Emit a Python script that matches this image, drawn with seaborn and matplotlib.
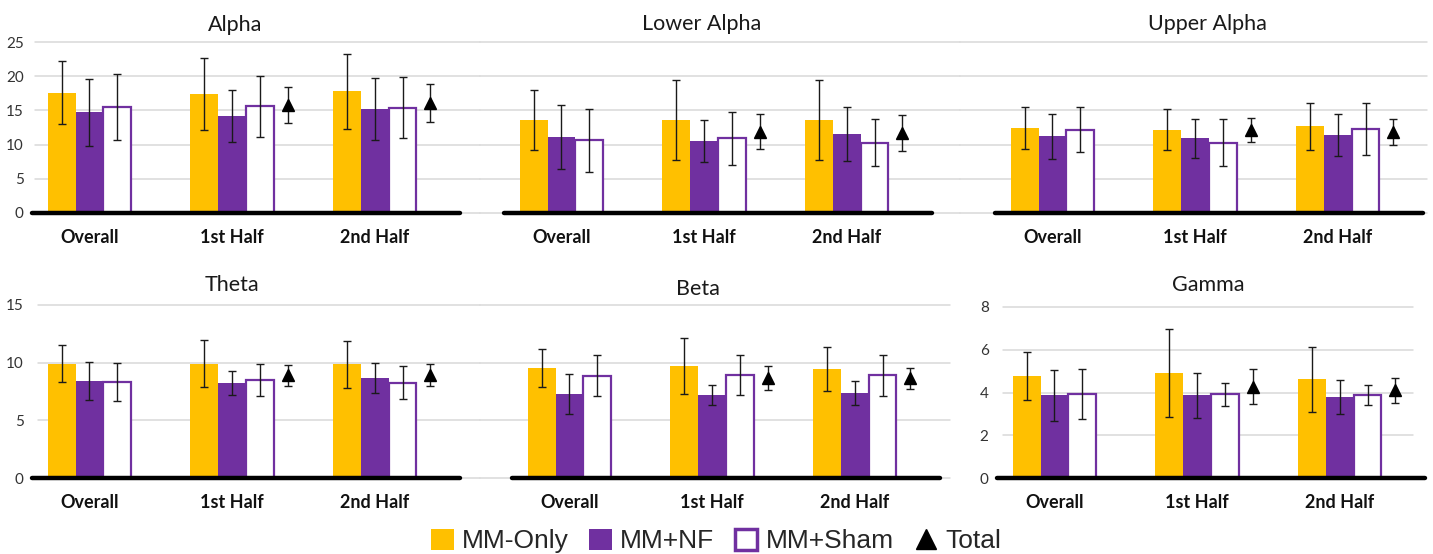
import numpy as np
import pandas as pd
import matplotlib
matplotlib.use("Agg")
import matplotlib.pyplot as plt
import seaborn as sns
from matplotlib.patches import Patch
from matplotlib.lines import Line2D

# ---------------------------------------------------------------- data
bands = ["Alpha", "Lower Alpha", "Upper Alpha", "Theta", "Beta", "Gamma"]
periods = ["Overall", "1st Half", "2nd Half"]
groups = ["MM-Only", "MM+NF", "MM+Sham"]

# mean power per band, one value per period (Overall, 1st Half, 2nd Half)
mm_only_mean = {
    "Alpha": [17.6, 17.4, 17.8], "Lower Alpha": [13.6, 13.6, 13.6],
    "Upper Alpha": [12.4, 12.2, 12.7], "Theta": [9.9, 9.92, 9.85],
    "Beta": [9.55, 9.7, 9.45], "Gamma": [4.78, 4.92, 4.61],
}
mm_only_sd = {
    "Alpha": [4.6, 5.3, 5.5], "Lower Alpha": [4.45, 5.85, 5.9],
    "Upper Alpha": [3.1, 3.05, 3.45], "Theta": [1.6, 2.03, 2.07],
    "Beta": [1.67, 2.45, 1.87], "Gamma": [1.13, 2.05, 1.5],
}
mm_nf_mean = {
    "Alpha": [14.7, 14.2, 15.2], "Lower Alpha": [11.1, 10.5, 11.55],
    "Upper Alpha": [11.2, 10.9, 11.4], "Theta": [8.42, 8.22, 8.7],
    "Beta": [7.27, 7.2, 7.4], "Gamma": [3.86, 3.87, 3.79],
}
mm_nf_sd = {
    "Alpha": [4.85, 3.75, 4.5], "Lower Alpha": [4.65, 3.05, 4.0],
    "Upper Alpha": [3.3, 2.8, 3.05], "Theta": [1.67, 1.03, 1.3],
    "Beta": [1.75, 0.83, 1.03], "Gamma": [1.2, 1.04, 0.8],
}
mm_sham_mean = {
    "Alpha": [15.5, 15.6, 15.4], "Lower Alpha": [10.6, 10.9, 10.3],
    "Upper Alpha": [12.2, 10.3, 12.3], "Theta": [8.3, 8.5, 8.25],
    "Beta": [8.88, 8.92, 8.9], "Gamma": [3.92, 3.91, 3.88],
}
mm_sham_sd = {
    "Alpha": [4.8, 4.5, 4.5], "Lower Alpha": [4.65, 3.85, 3.4],
    "Upper Alpha": [3.3, 3.5, 3.8], "Theta": [1.66, 1.4, 1.43],
    "Beta": [1.75, 1.75, 1.75], "Gamma": [1.18, 0.52, 0.48],
}
# all participants pooled (no Overall value)
total_mean = {
    "Alpha": [np.nan, 15.8, 16.1], "Lower Alpha": [np.nan, 11.9, 11.7],
    "Upper Alpha": [np.nan, 12.1, 11.8], "Theta": [np.nan, 8.92, 8.97],
    "Beta": [np.nan, 8.67, 8.64], "Gamma": [np.nan, 4.26, 4.1],
}
total_sd = {
    "Alpha": [np.nan, 2.6, 2.8], "Lower Alpha": [np.nan, 2.6, 2.7],
    "Upper Alpha": [np.nan, 1.75, 1.9], "Theta": [np.nan, 0.92, 0.95],
    "Beta": [np.nan, 1.08, 0.94], "Gamma": [np.nan, 0.82, 0.6],
}

y_max = {"Alpha": 25, "Lower Alpha": 25, "Upper Alpha": 25,
         "Theta": 15, "Beta": 15, "Gamma": 8}
y_step = {"Alpha": 5, "Lower Alpha": 5, "Upper Alpha": 5,
          "Theta": 5, "Beta": 5, "Gamma": 2}

# ---------------------------------------------------------------- style
GOLD = "#FFC000"
PURPLE = "#7030A0"
GRID = "#D9D9D9"
palette = {"MM-Only": GOLD, "MM+NF": PURPLE, "MM+Sham": "white", "Total": "black"}
hue_levels = groups + ["Total"]

sns.set_theme(style="white")
plt.rcParams["font.family"] = ["Lato", "DejaVu Sans"]

W, H = 1433, 554
fig = plt.figure(figsize=(W / 100, H / 100), dpi=100)

# panel frames in pixels: plot x0, x1, top, bottom, grid x0, grid x1, title x, title y
layout = {
    "Alpha":       (32, 460, 42, 213, 35, 480, 235, 25, True),
    "Lower Alpha": (504, 932, 42, 213, 480, 960, 702, 24, False),
    "Upper Alpha": (995, 1423, 42, 213, 960, 1427, 1207, 24, False),
    "Theta":       (32, 460, 305, 478, 38, 480, 232, 285, True),
    "Beta":        (512, 940, 305, 478, 480, 950, 698, 289, False),
    "Gamma":       (997, 1425, 307, 478, 1003, 1413, 1208, 285, True),
}

BAR_WIDTH = 0.78
slot = BAR_WIDTH / len(hue_levels)
offsets = [(j - (len(hue_levels) - 1) / 2) * slot for j in range(len(hue_levels))]

for band in bands:
    x0, x1, yt, yb, gx0, gx1, tx, ty, show_y = layout[band]
    ax = fig.add_axes([x0 / W, 1 - yb / H, (x1 - x0) / W, (yb - yt) / H])

    rows = []
    for g, means in zip(groups, [mm_only_mean, mm_nf_mean, mm_sham_mean]):
        for p, v in zip(periods, means[band]):
            rows.append({"period": p, "group": g, "value": v})
    df = pd.DataFrame(rows)

    ticks = np.arange(0, y_max[band] + 0.01, y_step[band])
    span = x1 - x0
    for t in ticks:
        ax.axhline(t, xmin=(gx0 - x0) / span, xmax=(gx1 - x0) / span,
                   color=GRID, lw=1.1, zorder=0, clip_on=False)

    sns.barplot(data=df, x="period", y="value", hue="group", order=periods,
                hue_order=hue_levels, palette=palette, width=BAR_WIDTH,
                errorbar=None, saturation=1, legend=False, ax=ax, zorder=2,
                linewidth=0)
    for patch in ax.patches:
        fc = patch.get_facecolor()
        if fc[0] > 0.99 and fc[1] > 0.99 and fc[2] > 0.99:
            patch.set_edgecolor(PURPLE)
            patch.set_linewidth(1.6)
            patch.set_joinstyle("miter")

    for j, (means, sds) in enumerate([(mm_only_mean, mm_only_sd),
                                      (mm_nf_mean, mm_nf_sd),
                                      (mm_sham_mean, mm_sham_sd)]):
        xs = np.arange(len(periods)) + offsets[j]
        ax.errorbar(xs, means[band], yerr=sds[band], fmt="none",
                    ecolor="#1a1a1a", elinewidth=1.0, capsize=2.6,
                    capthick=1.0, zorder=3, clip_on=False)

    xs_t = np.arange(len(periods)) + offsets[3]
    ax.errorbar(xs_t, total_mean[band], yerr=total_sd[band], fmt="^",
                color="black", ms=8, ecolor="#1a1a1a", elinewidth=1.0,
                capsize=2.6, capthick=1.0, zorder=3, clip_on=False)

    ax.axhline(0, color="black", lw=3.2, zorder=4, clip_on=False)

    ax.set_xlim(-0.5, len(periods) - 0.5)
    ax.set_ylim(0, y_max[band])
    for s in ax.spines.values():
        s.set_visible(False)
    ax.grid(False)
    ax.set_xlabel("")
    ax.set_ylabel("")

    # category labels sit under the three bars of each group
    ax.set_xticks(np.arange(len(periods)) + (offsets[0] + offsets[2]) / 2)
    ax.set_xticklabels(periods, fontsize=13, fontweight="bold", color="#111111")
    ax.tick_params(axis="x", length=0, pad=11.5)

    if show_y:
        ax.set_yticks(ticks)
        ax.set_yticklabels([f"{t:g}" for t in ticks], fontsize=11, color="#333333")
        ax.tick_params(axis="y", length=0, pad=6)
    else:
        ax.set_yticks([])

    fig.text(tx / W, 1 - ty / H, band, ha="center", va="center",
             fontsize=15.5, color="#1a1a1a")

handles = [
    Patch(facecolor=GOLD, edgecolor="none"),
    Patch(facecolor=PURPLE, edgecolor="none"),
    Patch(facecolor="white", edgecolor=PURPLE, linewidth=2.5),
    Line2D([], [], marker="^", color="black", linestyle="none", markersize=15),
]
fig.legend(handles, groups + ["Total"], loc="center",
           bbox_to_anchor=(716 / W, 1 - 541 / H), ncol=4, frameon=False,
           prop={"family": "Liberation Sans", "size": 19},
           handlelength=0.85, handleheight=0.85, handletextpad=0.3,
           columnspacing=0.8, borderpad=0)

fig.savefig("out.png", dpi=100, facecolor="white")
